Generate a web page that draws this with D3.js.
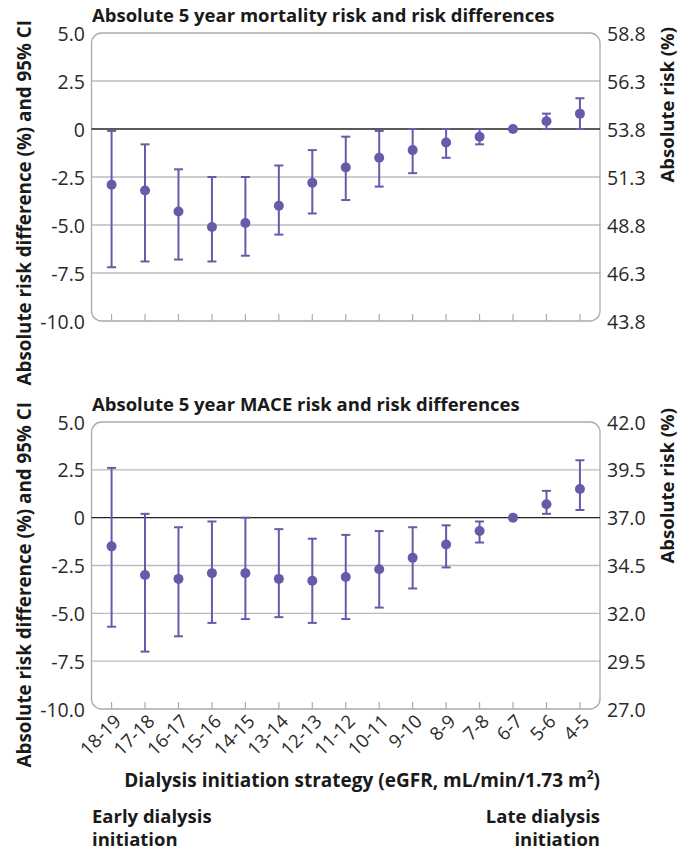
<!DOCTYPE html>
<html><head><meta charset="utf-8">
<script src="https://cdn.jsdelivr.net/npm/d3@7"></script>
<style>
body{margin:0;background:#fff;}
svg{display:block;font-family:"Open Sans",sans-serif;}
</style></head>
<body>
<script>
const categories = ["18-19","17-18","16-17","15-16","14-15","13-14","12-13","11-12","10-11","9-10","8-9","7-8","6-7","5-6","4-5"];
const leftTicks = [5.0, 2.5, 0, -2.5, -5.0, -7.5, -10.0];
const leftTickLabels = ["5.0","2.5","0","-2.5","-5.0","-7.5","-10.0"];
const mortalityRightTickLabels = ["58.8","56.3","53.8","51.3","48.8","46.3","43.8"];
const maceRightTickLabels = ["42.0","39.5","37.0","34.5","32.0","29.5","27.0"];

// Mortality risk differences (%) and 95% CI
const mortalityDiff  = [-2.9, -3.2, -4.3, -5.1, -4.9, -4.0, -2.8, -2.0, -1.5, -1.1, -0.7, -0.4, 0, 0.4, 0.8];
const mortalityLower = [-7.2, -6.9, -6.8, -6.9, -6.6, -5.5, -4.4, -3.7, -3.0, -2.3, -1.5, -0.8, 0, 0.0, 0.0];
const mortalityUpper = [-0.1, -0.8, -2.1, -2.5, -2.5, -1.9, -1.1, -0.4, -0.1, 0.0, 0.0, 0.0, 0, 0.8, 1.6];

// MACE risk differences (%) and 95% CI
const maceDiff  = [-1.5, -3.0, -3.2, -2.9, -2.9, -3.2, -3.3, -3.1, -2.7, -2.1, -1.4, -0.7, 0, 0.7, 1.5];
const maceLower = [-5.7, -7.0, -6.2, -5.5, -5.3, -5.2, -5.5, -5.3, -4.7, -3.7, -2.6, -1.3, 0, 0.2, 0.4];
const maceUpper = [2.6, 0.2, -0.5, -0.2, 0.0, -0.6, -1.1, -0.9, -0.7, -0.5, -0.4, -0.2, 0, 1.4, 3.0];

const W = 681, H = 853;
const svg = d3.select("body").append("svg").attr("width", W).attr("height", H);
const purple = "#6a58a8";
const textCol = "#2a2a2a";
const titleCol = "#1a1a1a";

const x = d3.scalePoint().domain(categories).range([91.5, 600]).padding(0.6);

function panel(cfg) {
  const y = d3.scaleLinear().domain([-10, 5]).range([cfg.bottom, cfg.top]);
  const g = svg.append("g");
  g.selectAll("line.grid").data(leftTicks.filter(v => v !== 5 && v !== -10 && v !== 0))
    .join("line").attr("x1", 91.5).attr("x2", 600)
    .attr("y1", d => y(d)).attr("y2", d => y(d))
    .attr("stroke", "#bdbdbd").attr("stroke-width", 1.3);
  g.append("rect").attr("x", 91.5).attr("y", cfg.top).attr("width", 600 - 91.5)
    .attr("height", cfg.bottom - cfg.top).attr("rx", 10).attr("ry", 10)
    .attr("fill", "none").attr("stroke", "#aaaaaa").attr("stroke-width", 1.3);
  g.append("line").attr("x1", 91.5).attr("x2", 600).attr("y1", y(0)).attr("y2", y(0))
    .attr("stroke", "#222").attr("stroke-width", 1.3);
  g.selectAll("line.xt").data(categories).join("line")
    .attr("x1", d => x(d)).attr("x2", d => x(d))
    .attr("y1", cfg.bottom).attr("y2", cfg.bottom - 7)
    .attr("stroke", "#aaaaaa").attr("stroke-width", 1.2);
  const yl = d3.axisLeft(y).tickValues(leftTicks).tickFormat((d, i) => leftTickLabels[i]).tickSize(0).tickPadding(0);
  const ga = g.append("g").attr("transform", "translate(85,0)").call(yl);
  ga.select(".domain").remove();
  ga.selectAll("text").attr("font-size", 19.5).attr("fill", textCol).attr("font-family", "Open Sans").attr("dy", "0.36em");
  const yr = d3.scaleLinear().domain([cfg.rightMin, cfg.rightMin + 15]).range([cfg.bottom, cfg.top]);
  const rVals = cfg.rightLabels.map(s => +s);
  const ar = d3.axisRight(yr).tickValues(rVals).tickFormat((d, i) => cfg.rightLabels[i]).tickSize(0).tickPadding(0);
  const gr = g.append("g").attr("transform", "translate(607,0)").call(ar);
  gr.select(".domain").remove();
  gr.selectAll("text").attr("font-size", 19.5).attr("fill", textCol).attr("font-family", "Open Sans").attr("dy", "0.36em");
  g.append("text").attr("x", 92).attr("y", cfg.top - 11).text(cfg.title)
    .attr("font-size", 18.5).attr("font-weight", 700).attr("fill", titleCol);
  g.append("text").attr("transform", `translate(24,${cfg.leftLabelEnd}) rotate(-90)`)
    .attr("text-anchor", "end").attr("dy", "0.35em")
    .text("Absolute risk difference (%) and 95% CI")
    .attr("font-size", 18.8).attr("font-weight", 700).attr("fill", titleCol);
  g.append("text").attr("transform", `translate(668,${cfg.rightLabelEnd}) rotate(-90)`)
    .attr("text-anchor", "end").attr("dy", "0.35em")
    .text("Absolute risk (%)")
    .attr("font-size", 18.5).attr("font-weight", 700).attr("fill", titleCol);
  const data = categories.map((c, i) => ({c, v: cfg.diff[i], lo: cfg.lower[i], hi: cfg.upper[i]}));
  const eb = g.selectAll("g.eb").data(data.filter(d => d.hi !== d.lo)).join("g");
  eb.append("line").attr("x1", d => x(d.c)).attr("x2", d => x(d.c))
    .attr("y1", d => y(d.lo)).attr("y2", d => y(d.hi)).attr("stroke", purple).attr("stroke-width", 2);
  eb.append("line").attr("x1", d => x(d.c) - 4.5).attr("x2", d => x(d.c) + 4.5)
    .attr("y1", d => y(d.lo)).attr("y2", d => y(d.lo)).attr("stroke", purple).attr("stroke-width", 2);
  eb.append("line").attr("x1", d => x(d.c) - 4.5).attr("x2", d => x(d.c) + 4.5)
    .attr("y1", d => y(d.hi)).attr("y2", d => y(d.hi)).attr("stroke", purple).attr("stroke-width", 2);
  g.selectAll("circle").data(data).join("circle")
    .attr("cx", d => x(d.c)).attr("cy", d => y(d.v)).attr("r", 5).attr("fill", purple);
  return y;
}

panel({top: 33, bottom: 321, title: "Absolute 5 year mortality risk and risk differences",
  diff: mortalityDiff, lower: mortalityLower, upper: mortalityUpper,
  rightMin: 43.8, rightLabels: mortalityRightTickLabels, leftLabelEnd: 20, rightLabelEnd: 27});
panel({top: 422, bottom: 709, title: "Absolute 5 year MACE risk and risk differences",
  diff: maceDiff, lower: maceLower, upper: maceUpper,
  rightMin: 27.0, rightLabels: maceRightTickLabels, leftLabelEnd: 402, rightLabelEnd: 408});

svg.append("g").selectAll("text").data(categories).join("text")
  .attr("transform", d => `translate(${x(d) + 6},${718}) rotate(-45)`)
  .attr("text-anchor", "end").attr("dy", "0.35em")
  .attr("font-size", 18.5).attr("fill", textCol).text(d => d);

const xt = svg.append("text").attr("x", 600).attr("y", 787).attr("text-anchor", "end")
  .attr("font-size", 19).attr("font-weight", 700).attr("fill", titleCol);
xt.append("tspan").text("Dialysis initiation strategy (eGFR, mL/min/1.73 m");
xt.append("tspan").text("2").attr("font-size", 12).attr("dy", -8);
xt.append("tspan").text(")").attr("dy", 8);

const cornerText = [["Early dialysis", "initiation"], ["Late dialysis", "initiation"]];
[[92, "start"], [600, "end"]].forEach(([px, anchor], k) => {
  const t = svg.append("text").attr("x", px).attr("y", 823).attr("text-anchor", anchor)
    .attr("font-size", 18.5).attr("font-weight", 700).attr("fill", titleCol);
  t.append("tspan").attr("x", px).text(cornerText[k][0]);
  t.append("tspan").attr("x", px).attr("dy", 23).text(cornerText[k][1]);
});
</script>
</body></html>
